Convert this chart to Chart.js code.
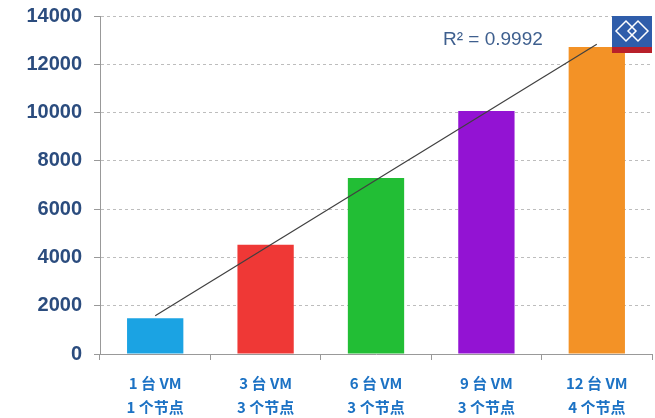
<!DOCTYPE html>
<html lang="zh">
<head>
    <meta charset="UTF-8">
    <title>VM scaling</title>
    <script src="https://cdn.jsdelivr.net/npm/chart.js@4/dist/chart.umd.min.js"></script>
    <style>
        html, body { margin: 0; padding: 0; background: #fff; overflow: hidden; }
    </style>
</head>
<body>
<canvas id="myChart" width="655" height="418"></canvas>

<script>
    // Data
    const categories = [
        ['1 台 VM', '1 个节点'],
        ['3 台 VM', '3 个节点'],
        ['6 台 VM', '3 个节点'],
        ['9 台 VM', '3 个节点'],
        ['12 台 VM', '4 个节点']
    ];
    const values = [1480, 4530, 7290, 10060, 12720];
    const barColors = ['#1BA3E3', '#EF3836', '#22BE35', '#9313D3', '#F39226'];
    const trend = [1580, null, null, null, 12830];
    const r2Label = 'R² = 0.9992';
    const yStep = 2000;

    // R² label and the small logo in the corner
    const extras = {
        id: 'extras',
        afterDraw(chart) {
            const ctx = chart.ctx;
            ctx.save();
            ctx.fillStyle = '#3E5F8E';
            ctx.font = '19px "Liberation Sans", Arial, sans-serif';
            ctx.textBaseline = 'middle';
            ctx.fillText(r2Label, 443, 40);

            // logo
            ctx.fillStyle = '#2F5DAA';
            ctx.fillRect(612, 16, 40, 31);
            ctx.fillStyle = '#B8202A';
            ctx.fillRect(612, 47, 40, 6);
            ctx.strokeStyle = '#fff';
            ctx.lineWidth = 1.5;
            [[626, 31], [638, 31]].forEach(([cx, cy]) => {
                ctx.beginPath();
                ctx.moveTo(cx - 10, cy);
                ctx.lineTo(cx, cy - 10);
                ctx.lineTo(cx + 10, cy);
                ctx.lineTo(cx, cy + 10);
                ctx.closePath();
                ctx.stroke();
            });
            ctx.restore();
        }
    };

    const ctx = document.getElementById('myChart').getContext('2d');
    new Chart(ctx, {
        data: {
            labels: categories,
            datasets: [{
                type: 'line',
                data: trend,
                spanGaps: true,
                borderColor: '#404040',
                borderWidth: 1.2,
                pointRadius: 0,
                order: 0
            }, {
                type: 'bar',
                data: values,
                backgroundColor: barColors,
                categoryPercentage: 1,
                barPercentage: 0.51,
                order: 1
            }]
        },
        options: {
            responsive: false,
            animation: false,
            devicePixelRatio: 1,
            layout: { padding: { top: 0, right: 3, left: 0, bottom: 0 } },
            plugins: { legend: { display: false }, tooltip: { enabled: false } },
            scales: {
                x: {
                    afterFit(scale) {
                        scale.height = 64;
                        scale.paddingLeft = 0;
                        scale.paddingRight = 0;
                    },
                    grid: {
                        drawOnChartArea: false,
                        color: '#999',
                        tickLength: 6,
                        offset: true
                    },
                    border: { color: '#999' },
                    ticks: {
                        color: '#1C72C4',
                        font: { family: '"Noto Sans CJK SC"', size: 15, weight: 'bold', lineHeight: 1.55 },
                        maxRotation: 0,
                        autoSkip: false,
                        padding: 12
                    }
                },
                y: {
                    min: 0,
                    max: 14000,
                    afterFit(scale) {
                        scale.width = 100;
                        scale.paddingTop = 16;
                        scale.paddingBottom = 0;
                    },
                    grid: {
                        color: '#BDBDBD',
                        tickColor: '#999',
                        tickBorderDash: [],
                        tickLength: 6
                    },
                    border: { color: '#999', dash: [3, 3] },
                    ticks: {
                        stepSize: yStep,
                        autoSkip: false,
                        callback: v => String(v),
                        color: '#2B4C7E',
                        font: { family: '"Liberation Sans", Arial, sans-serif', size: 20, weight: 'bold' },
                        padding: 12
                    }
                }
            }
        },
        plugins: [extras]
    });
</script>
</body>
</html>
